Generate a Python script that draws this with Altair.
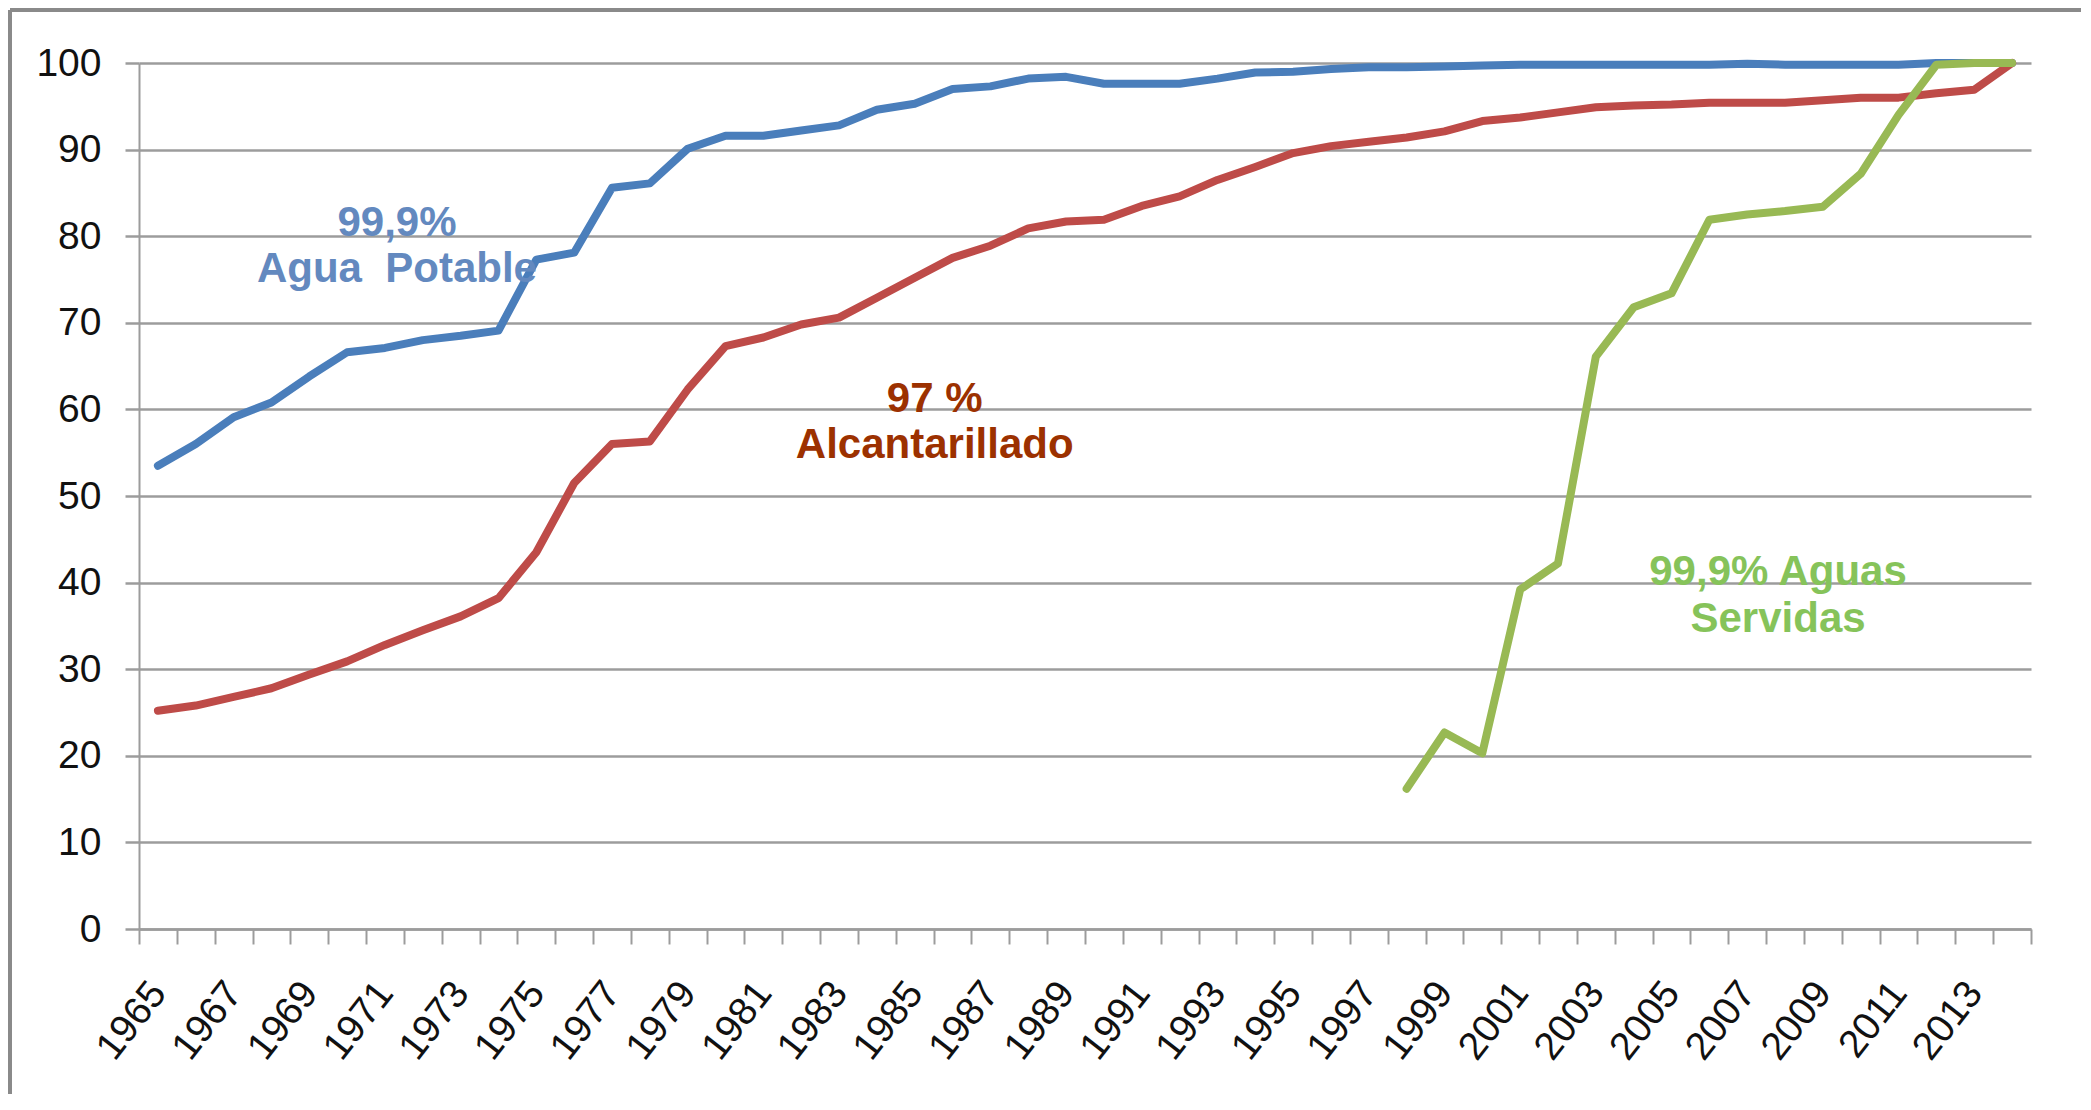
import altair as alt
import pandas as pd

# ---- data ----
years = list(range(1965, 2015))

agua_potable = [
    53.5, 56.0, 59.1, 60.8, 63.8, 66.6, 67.1, 68.0, 68.5, 69.1,
    77.3, 78.1, 85.6, 86.1, 90.1, 91.6, 91.6, 92.2, 92.8, 94.6,
    95.3, 97.0, 97.3, 98.2, 98.4, 97.6, 97.6, 97.6, 98.2, 98.9,
    99.0, 99.3, 99.5, 99.5, 99.6, 99.7, 99.8, 99.8, 99.8, 99.8,
    99.8, 99.8, 99.9, 99.8, 99.8, 99.8, 99.8, 100.0, 100.0, 100.0,
]

alcantarillado = [
    25.2, 25.8, 26.8, 27.8, 29.4, 30.9, 32.8, 34.5, 36.1, 38.2,
    43.5, 51.5, 56.0, 56.3, 62.3, 67.3, 68.3, 69.8, 70.6, 72.9,
    75.2, 77.5, 78.9, 80.9, 81.7, 81.9, 83.5, 84.6, 86.5, 88.0,
    89.6, 90.4, 90.9, 91.4, 92.1, 93.3, 93.7, 94.3, 94.9, 95.1,
    95.2, 95.4, 95.4, 95.4, 95.7, 96.0, 96.0, 96.5, 96.9, 100.0,
]

servidas_years = list(range(1998, 2015))
aguas_servidas = [
    16.2, 22.7, 20.3, 39.2, 42.2, 66.1, 71.8, 73.4, 81.9, 82.5,
    82.9, 83.4, 87.2, 94.0, 99.8, 100.0, 100.0,
]

y_ticks = [0, 10, 20, 30, 40, 50, 60, 70, 80, 90, 100]

# annotations: (text, anchor year, value)
ann_agua = ["99,9%", "Agua\u00a0 Potable"]
ann_agua_year = [1971, 1971]
ann_agua_val = [80.0, 74.7]

ann_alc = ["97 %", "Alcantarillado"]
ann_alc_year = [1985, 1985]
ann_alc_val = [59.7, 54.4]

ann_serv = ["99,9% Aguas", "Servidas"]
ann_serv_year = [2008, 2008]
ann_serv_val = [39.7, 34.3]

# ---- style ----
BLUE = "#4a7ebb"
RED = "#be4b48"
GREEN = "#98b954"
GRID = "#9c9c9c"
FONT = "Liberation Sans"
AXIS_FONT = "Liberation Sans"

df_agua = pd.DataFrame({"year": years, "value": agua_potable})
df_alc = pd.DataFrame({"year": years, "value": alcantarillado})
df_serv = pd.DataFrame({"year": servidas_years, "value": aguas_servidas})

x_scale = alt.Scale(type="band", domain=years, paddingInner=0, paddingOuter=0)
y_scale = alt.Scale(domain=[0, 100], nice=False, zero=True)

x_axis = alt.Axis(
    title=None,
    labelAngle=-52,
    labelAlign="right",
    labelBaseline="middle",
    labelExpr="datum.value % 2 == 1 ? datum.label : ''",
    labelFont=AXIS_FONT,
    labelFontSize=39,
    labelColor="#111111",
    labelPadding=42,
    labelOverlap=False,
    tickBand="extent",
    tickSize=15,
    tickColor=GRID,
    tickWidth=2,
    domainColor=GRID,
    domainWidth=2.5,
    grid=False,
)

y_axis = alt.Axis(
    title=None,
    values=y_ticks,
    labelFont=AXIS_FONT,
    labelFontSize=39,
    labelColor="#111111",
    labelPadding=24,
    tickSize=14,
    tickColor=GRID,
    tickWidth=2.5,
    domainColor=GRID,
    domainWidth=2,
    grid=True,
    gridColor=GRID,
    gridWidth=2.5,
)

X = alt.X("year:O", scale=x_scale, axis=x_axis)
Y = alt.Y("value:Q", scale=y_scale, axis=y_axis)


def line_layer(df, color):
    return alt.Chart(df).mark_line(
        color=color, strokeWidth=8, strokeJoin="round", strokeCap="round"
    ).encode(x=X, y=Y)


def text_layer(labels, yrs, vals, color, dx):
    df = pd.DataFrame({"label": labels, "year": yrs, "value": vals})
    return alt.Chart(df).mark_text(
        font=FONT, fontSize=42, fontWeight="bold", color=color,
        align="center", baseline="alphabetic", dx=dx,
    ).encode(x=X, y=Y, text="label:N")


frame_df = pd.DataFrame({"k": [0]})
frame_top = alt.Chart(frame_df).mark_rule(color="#8a8a8a", strokeWidth=4).encode(
    x=alt.value(-129), x2=alt.value(2000), y=alt.value(-53)
)
frame_left = alt.Chart(frame_df).mark_rule(color="#8a8a8a", strokeWidth=4).encode(
    x=alt.value(-129), y=alt.value(-53), y2=alt.value(1100)
)

chart = alt.layer(
    line_layer(df_agua, BLUE),
    line_layer(df_alc, RED),
    line_layer(df_serv, GREEN),
    text_layer(ann_agua, ann_agua_year, ann_agua_val, "#6389bf", 12),
    text_layer(ann_alc, ann_alc_year, ann_alc_val, "#9c3100", 20),
    text_layer(ann_serv, ann_serv_year, ann_serv_val, "#86c35a", -7),
    frame_top,
    frame_left,
).properties(
    width=1892,
    height=866,
    autosize=alt.AutoSizeParams(type="none"),
    padding={"left": 131, "top": 55, "right": 50, "bottom": 165},
    background="white",
).configure_view(stroke=None)

chart.save("out.html", embed_options={"renderer": "svg", "actions": False})
